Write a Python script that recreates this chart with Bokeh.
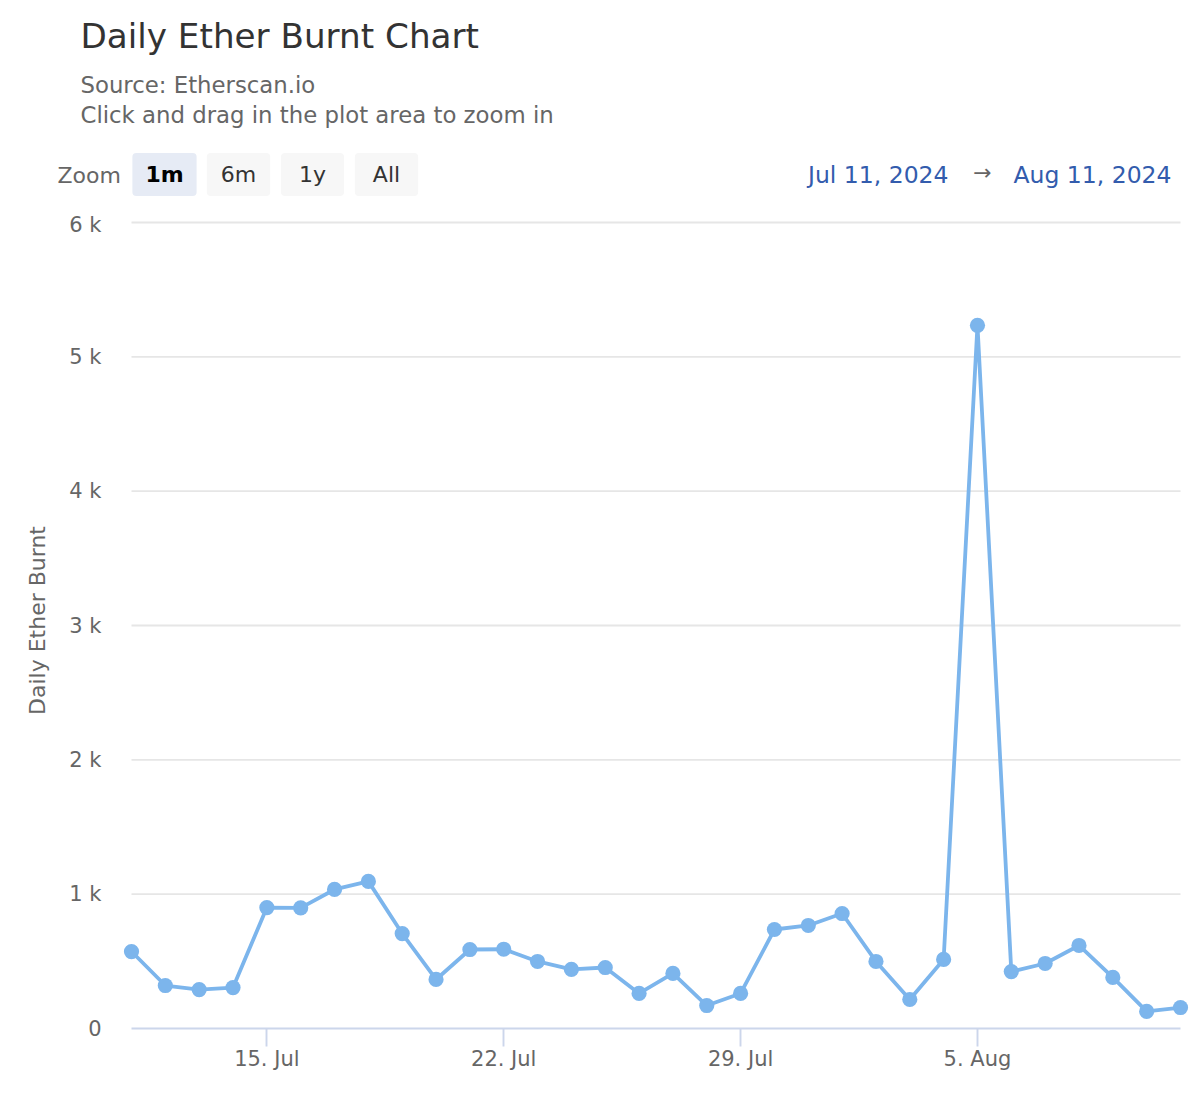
import pandas as pd
from bokeh.plotting import figure
from bokeh.layouts import column
from bokeh.models import Range1d, FixedTicker, Label
from bokeh.embed import file_html
from bokeh.resources import INLINE

# ---- data ----
dates = pd.date_range("2024-07-11", "2024-08-11", freq="D")
burnt = [573, 320, 290, 305, 900, 898, 1035, 1095, 707, 365, 588, 590, 499, 440,
         454, 261, 410, 171, 261, 737, 767, 856, 499, 216, 514, 5235, 424, 484,
         618, 380, 127, 156]
y_ticks = [0, 1000, 2000, 3000, 4000, 5000, 6000]
y_tick_labels = ["0", "1 k", "2 k", "3 k", "4 k", "5 k", "6 k"]
x_tick_dates = ["2024-07-15", "2024-07-22", "2024-07-29", "2024-08-05"]
x_tick_labels = ["15. Jul", "22. Jul", "29. Jul", "5. Aug"]
zoom_buttons = ["1m", "6m", "1y", "All"]

FONT = "DejaVu Sans"
LINE = "#7cb5ec"
HEADER_H = 212


def ms(d):
    return pd.Timestamp(d).value / 1e6


# ---------------- header (title, subtitle, zoom buttons, range) ----------------
h = figure(width=1200, height=HEADER_H, output_backend="svg", toolbar_location=None,
           x_range=Range1d(0, 1200), y_range=Range1d(HEADER_H, 0),
           x_axis_location=None, y_axis_location=None,
           min_border=0, min_border_left=0, min_border_right=0,
           min_border_top=0, min_border_bottom=0)
h.title = None
h.outline_line_color = None
h.xgrid.visible = False
h.ygrid.visible = False
h.background_fill_color = "white"
h.border_fill_color = "white"
try:
    h.frame_align = False
except Exception:
    pass


def lbl(text, cx, cy, size, color, align="left", style="normal", **kw):
    h.add_layout(Label(x=cx, y=cy, text=text, text_font=FONT, text_font_size=size,
                       text_color=color, text_align=align, text_baseline="middle",
                       text_font_style=style, **kw))


lbl("Daily Ether Burnt Chart", 80, 35, "34.2px", "#333333")
lbl("Source: Etherscan.io", 80, 84, "22.8px", "#666666")
lbl("Click and drag in the plot area to zoom in", 80, 114, "22.8px", "#666666")
lbl("Zoom", 57, 175, "22px", "#666666")

btn_cx = [164, 238, 312, 386]
btn_hpad = [13, 14, 18, 18]
for i, (t, cx, hp) in enumerate(zip(zoom_buttons, btn_cx, btn_hpad)):
    sel = i == 0
    lbl(t, cx, 174, "22px", "#000000" if sel else "#333333", align="center",
        style="bold" if sel else "normal",
        background_fill_color="#e6ebf5" if sel else "#f7f7f7",
        padding=(hp, 9), border_radius=4)

lbl("Jul 11, 2024", 948, 174, "23.5px", "#335cad", align="right")
lbl("\u2192", 982, 172, "22px", "#666666", align="center")
lbl("Aug 11, 2024", 1171, 174, "23.5px", "#335cad", align="right")

# ---------------- chart ----------------
FL, FR = 118, 1193
pad = pd.Timedelta(days=13 / 33.84)
x_range = Range1d(dates[0] - pad, dates[-1] + pad)
y_range = Range1d(0, 6000 + 10 * 6000 / 806)

p = figure(width=1200, height=1100 - HEADER_H, x_axis_type="datetime",
           output_backend="svg", toolbar_location=None,
           x_range=x_range, y_range=y_range,
           min_border_left=FL, min_border_right=1200 - FR,
           min_border_top=0, min_border_bottom=72)
p.title = None
p.outline_line_color = None
p.background_fill_color = "white"
p.border_fill_color = "white"
p.xgrid.visible = False
p.ygrid.visible = False
try:
    p.frame_align = False
except Exception:
    pass

gv = y_ticks[1:]
p.segment(x0=[dates[0]] * len(gv), x1=[dates[-1]] * len(gv), y0=gv, y1=gv,
          line_color="#e6e6e6", line_width=1.9)

p.line(dates, burnt, line_color=LINE, line_width=3.8)
p.scatter(dates, burnt, size=15.2, fill_color=LINE, line_color=None)

ya = p.yaxis[0]
ya.ticker = FixedTicker(ticks=y_ticks)
ya.major_label_overrides = {t: l for t, l in zip(y_ticks, y_tick_labels)}
ya.axis_line_color = None
ya.major_tick_line_color = None
ya.minor_tick_line_color = None
ya.major_tick_out = 0
ya.major_tick_in = 0
ya.major_label_standoff = 17
ya.major_label_text_font = FONT
ya.major_label_text_font_size = "21px"
ya.major_label_text_color = "#666666"
ya.axis_label = "Daily Ether Burnt"
ya.axis_label_text_font = FONT
ya.axis_label_text_font_size = "22px"
ya.axis_label_text_font_style = "normal"
ya.axis_label_text_color = "#666666"
ya.axis_label_standoff = 16

xa = p.xaxis[0]
xt = [ms(d) for d in x_tick_dates]
xa.ticker = FixedTicker(ticks=xt)
xa.major_label_overrides = {t: l for t, l in zip(xt, x_tick_labels)}
xa.bounds = (ms(dates[0]), ms(dates[-1]))
xa.axis_line_color = "#ccd6eb"
xa.axis_line_width = 1.9
xa.major_tick_line_color = "#ccd6eb"
xa.major_tick_line_width = 1.9
xa.minor_tick_line_color = None
xa.major_tick_out = 18
xa.major_tick_in = 0
xa.major_label_standoff = 0
xa.major_label_text_font = FONT
xa.major_label_text_font_size = "21px"
xa.major_label_text_color = "#666666"

layout = column(h, p, spacing=0)
open("out.html", "w").write(file_html(layout, INLINE))
